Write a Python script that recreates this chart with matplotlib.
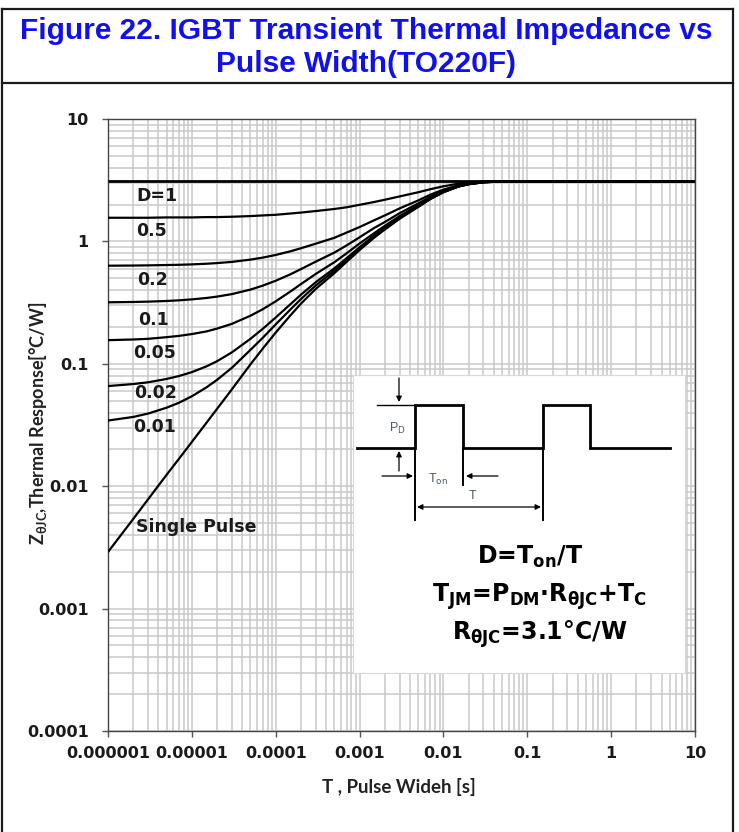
import matplotlib
matplotlib.use("Agg")
import matplotlib.pyplot as plt
from matplotlib import font_manager
from matplotlib.ticker import LogLocator, FixedLocator, NullFormatter
from matplotlib.lines import Line2D

# ---------------- data ----------------
pulse_width = [1e-6, 2e-6, 3e-6, 5e-6, 7e-6,
               1e-5, 1.5e-5, 2e-5, 3e-5, 5e-5, 7e-5,
               1e-4, 1.5e-4, 2e-4, 3e-4, 5e-4, 7e-4,
               1e-3, 1.5e-3, 2e-3, 3e-3, 5e-3, 7e-3,
               1e-2, 1.5e-2, 2e-2, 3e-2, 5e-2, 7e-2,
               1e-1, 1, 10]
z_d100 = [3.1, 3.1, 3.1, 3.1, 3.1, 3.1, 3.1, 3.1, 3.1, 3.1, 3.1,
          3.1, 3.1, 3.1, 3.1, 3.1, 3.1, 3.1, 3.1, 3.1, 3.1, 3.1, 3.1,
          3.1, 3.1, 3.1, 3.1, 3.1, 3.1, 3.1, 3.1, 3.1]
z_d50 = [1.56, 1.56, 1.56, 1.57, 1.57, 1.57, 1.58, 1.58, 1.59, 1.61, 1.63,
         1.65, 1.69, 1.72, 1.77, 1.84, 1.90, 1.99, 2.10, 2.19, 2.33, 2.52, 2.67,
         2.82, 2.96, 3.03, 3.08, 3.1, 3.1, 3.1, 3.1, 3.1]
z_d20 = [0.633, 0.635, 0.637, 0.641, 0.644, 0.649, 0.657, 0.665, 0.68, 0.71, 0.737,
         0.775, 0.83, 0.879, 0.958, 1.07, 1.18, 1.31, 1.49, 1.63, 1.86, 2.16, 2.41,
         2.65, 2.87, 2.98, 3.07, 3.1, 3.1, 3.1, 3.1, 3.1]
z_d10 = [0.318, 0.32, 0.322, 0.326, 0.33, 0.336, 0.345, 0.354, 0.371, 0.404, 0.435,
         0.477, 0.539, 0.594, 0.683, 0.81, 0.927, 1.08, 1.29, 1.44, 1.70, 2.04, 2.32,
         2.59, 2.84, 2.96, 3.05, 3.1, 3.1, 3.1, 3.1, 3.1]
z_d05 = [0.156, 0.158, 0.16, 0.165, 0.169, 0.175, 0.184, 0.194, 0.212, 0.247, 0.279,
         0.324, 0.39, 0.448, 0.542, 0.676, 0.799, 0.961, 1.17, 1.34, 1.61, 1.97, 2.27,
         2.55, 2.82, 2.94, 3.04, 3.09, 3.1, 3.1, 3.1, 3.1]
z_d02 = [0.0658, 0.0683, 0.0706, 0.0752, 0.0794, 0.0855, 0.0954, 0.105, 0.124, 0.16, 0.193,
         0.239, 0.307, 0.367, 0.464, 0.602, 0.729, 0.896, 1.12, 1.29, 1.57, 1.94, 2.24,
         2.54, 2.81, 2.94, 3.05, 3.09, 3.1, 3.1, 3.1, 3.1]
z_d01 = [0.0344, 0.0368, 0.0392, 0.0438, 0.048, 0.0543, 0.0643, 0.074, 0.0927, 0.13, 0.163,
         0.21, 0.278, 0.338, 0.436, 0.576, 0.705, 0.873, 1.10, 1.27, 1.55, 1.93, 2.23,
         2.53, 2.81, 2.94, 3.04, 3.09, 3.1, 3.1, 3.1, 3.1]
z_single = [0.0029, 0.0054, 0.0078, 0.0124, 0.0167, 0.023, 0.0331, 0.0429, 0.0618, 0.099, 0.133,
            0.18, 0.249, 0.31, 0.409, 0.55, 0.68, 0.85, 1.075, 1.25, 1.53, 1.91, 2.22,
            2.52, 2.8, 2.93, 3.04, 3.09, 3.1, 3.1, 3.1, 3.1]

curve_labels = ["D=1", "0.5", "0.2", "0.1", "0.05", "0.02", "0.01", "Single Pulse"]
x_ticks = [1e-6, 1e-5, 1e-4, 1e-3, 1e-2, 1e-1, 1, 10]
x_ticklabels = ["0.000001", "0.00001", "0.0001", "0.001", "0.01", "0.1", "1", "10"]
y_ticks = [1e-4, 1e-3, 1e-2, 1e-1, 1, 10]
y_ticklabels = ["0.0001", "0.001", "0.01", "0.1", "1", "10"]

# ---------------- fonts ----------------
names = {f.name for f in font_manager.fontManager.ttflist}
ARIAL = "Liberation Sans"
NARROW = "Liberation Sans Narrow" if "Liberation Sans Narrow" in names else "Liberation Sans"
WIDE = "DejaVu Sans"
CAL = ["Lato", "DejaVu Sans"]

plt.rcParams["mathtext.fontset"] = "custom"
plt.rcParams["mathtext.rm"] = "Lato:bold"
plt.rcParams["mathtext.it"] = "Lato:bold"
plt.rcParams["mathtext.bf"] = "Lato:bold"
plt.rcParams["mathtext.sf"] = "Lato:bold"
plt.rcParams["mathtext.fallback"] = "stixsans"

W, H = 739, 832
fig = plt.figure(figsize=(W / 100, H / 100), dpi=100)


def fx(px):
    return px / W


def fy(py):
    return 1 - py / H


# outer frame
frame_kw = dict(color="#1a1a1a", lw=1.6, transform=fig.transFigure)
fig.add_artist(Line2D([fx(2), fx(733)], [fy(9), fy(9)], **frame_kw))
fig.add_artist(Line2D([fx(2), fx(733)], [fy(83), fy(83)], **frame_kw))
fig.add_artist(Line2D([fx(2), fx(2)], [fy(9), fy(832)], **frame_kw))
fig.add_artist(Line2D([fx(733), fx(733)], [fy(9), fy(832)], **frame_kw))

# title
title_kw = dict(ha="center", va="center", color="#1010ee", fontsize=21.5,
                fontweight="bold", family=NARROW)
fig.text(fx(366), fy(31), "Figure 22. IGBT Transient Thermal Impedance vs", **title_kw)
fig.text(fx(366), fy(64), "Pulse Width(TO220F)", **title_kw)

# main axes
L, R, T, B = 108, 695, 119, 731
ax = fig.add_axes([fx(L), fy(B), (R - L) / W, (B - T) / H])
ax.set_xscale("log")
ax.set_yscale("log")
ax.set_xlim(1e-6, 10)
ax.set_ylim(1e-4, 10)

ax.xaxis.set_major_locator(FixedLocator(x_ticks))
ax.set_xticklabels(x_ticklabels)
ax.yaxis.set_major_locator(FixedLocator(y_ticks))
ax.set_yticklabels(y_ticklabels)
ax.xaxis.set_minor_locator(LogLocator(base=10, subs=range(2, 10), numticks=50))
ax.yaxis.set_minor_locator(LogLocator(base=10, subs=range(2, 10), numticks=50))
ax.xaxis.set_minor_formatter(NullFormatter())
ax.yaxis.set_minor_formatter(NullFormatter())
ax.grid(which="both", color="#c9c9c9", lw=1.1)
ax.set_axisbelow(True)
ax.tick_params(which="major", length=4, width=1, color="#555555", direction="out",
               labelsize=11.5)
ax.tick_params(axis="y", which="major", pad=10)
ax.tick_params(axis="x", which="major", pad=7)
ax.tick_params(which="minor", length=0)
for lab in ax.get_xticklabels() + ax.get_yticklabels():
    lab.set_fontfamily(WIDE)
    lab.set_fontweight("bold")
    lab.set_color("#1a1a1a")
for s in ax.spines.values():
    s.set_color("#444444")
    s.set_linewidth(1.0)

series = [z_d100, z_d50, z_d20, z_d10, z_d05, z_d02, z_d01, z_single]
for i, ys in enumerate(series):
    ax.plot(pulse_width, ys, color="black", lw=2.0 if i == 0 else 1.6,
            solid_capstyle="butt", solid_joinstyle="round", zorder=3)

label_pos = [(136, 196), (136, 231), (137, 280), (138, 320), (133, 353),
             (134, 393), (133, 427), (136, 527)]
for lab, (px, py) in zip(curve_labels, label_pos):
    fig.text(fx(px), fy(py), lab, ha="left", va="center", fontsize=12.5,
             fontweight="bold", family=WIDE, color="#1a1a1a", zorder=5)

fig.text(fx(399), fy(787), "T , Pulse Wideh [s]", family=CAL, fontweight="bold",
         fontsize=13.5, color="#222222", ha="center", va="center")
fig.text(fx(38), fy(423), r"Z$_{\theta JC}$,Thermal Response[°C/W]", family=CAL,
         fontweight="bold", fontsize=13, color="#222222", ha="center",
         va="center", rotation=90)

# inset box with the pulse diagram (coordinates in reference pixels)
iL, iR, iT, iB = 353, 685, 375, 673
ia = fig.add_axes([fx(iL), fy(iB), (iR - iL) / W, (iB - iT) / H])
ia.set_xlim(iL, iR)
ia.set_ylim(iB, iT)
ia.set_facecolor("white")
for s in ia.spines.values():
    s.set_color("#d8d8d8")
    s.set_linewidth(0.8)
ia.set_xticks([])
ia.set_yticks([])

wave_x = [357, 415, 415, 463, 463, 543, 543, 590, 590, 670]
wave_y = [448, 448, 405, 405, 448, 448, 405, 405, 448, 448]
ia.plot(wave_x, wave_y, color="black", lw=2.0, solid_joinstyle="miter")
ia.plot([377, 415], [405, 405], color="black", lw=1.0)
ia.plot([415, 415], [448, 520], color="black", lw=1.4)
ia.plot([463, 463], [448, 485], color="black", lw=1.4)
ia.plot([543, 543], [448, 520], color="black", lw=1.4)

ak = dict(arrowstyle="-|>", color="black", lw=0.9, mutation_scale=8,
          shrinkA=0, shrinkB=0)
ia.annotate("", xy=(399, 402), xytext=(399, 378), arrowprops=ak)
ia.annotate("", xy=(399, 451), xytext=(399, 471), arrowprops=ak)
ia.annotate("", xy=(413, 476), xytext=(382, 476), arrowprops=ak)
ia.annotate("", xy=(466, 476), xytext=(498, 476), arrowprops=ak)
ia.annotate("", xy=(541, 507), xytext=(417, 507),
            arrowprops=dict(arrowstyle="<|-|>", color="black", lw=0.9,
                            mutation_scale=8, shrinkA=0, shrinkB=0))

small_kw = dict(ha="center", va="center", color="#4a5670", fontsize=9,
                family=ARIAL, math_fontfamily="dejavusans")
ia.text(397, 428, r"P$_\mathrm{D}$", **small_kw)
ia.text(438, 479, r"T$_\mathrm{on}$", **small_kw)
ia.text(473, 496, "T", **small_kw)

big_kw = dict(ha="center", va="center", color="black", fontsize=17,
              family=WIDE, fontweight="bold", math_fontfamily="dejavusans")
ia.text(530, 557, r"D=T$_\mathbf{on}$/T", **big_kw)
ia.text(539, 597, r"T$_\mathbf{JM}$=P$_\mathbf{DM}$·R$_\mathbf{\theta JC}$+T$_\mathbf{C}$", **big_kw)
ia.text(540, 634, r"R$_\mathbf{\theta JC}$=3.1°C/W", **big_kw)

fig.savefig("out.png", dpi=100)
